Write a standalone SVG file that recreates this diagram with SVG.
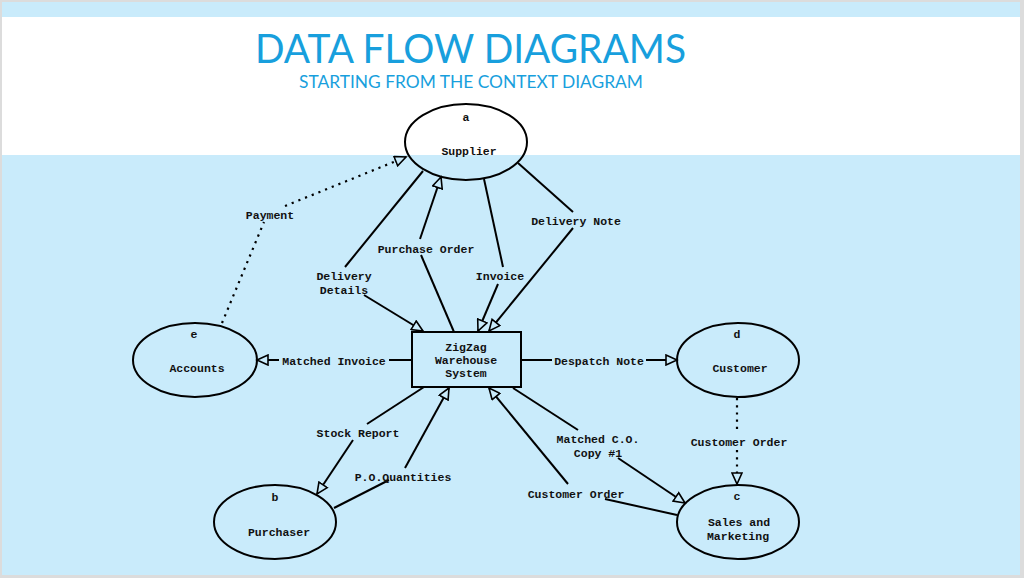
<svg xmlns="http://www.w3.org/2000/svg" width="1024" height="578" viewBox="0 0 1024 578">
<style>
.lbl{font-family:"Liberation Mono","Courier New",monospace;font-size:11.5px;font-weight:bold;fill:#111;text-anchor:middle}
.ln{fill:none;stroke:#000;stroke-width:2}
.dot{fill:none;stroke:#000;stroke-width:2.2;stroke-dasharray:2.2 5}
.nd{fill:none;stroke:#000;stroke-width:2}
.ttl{font-family:Lato,"Open Sans",sans-serif;fill:#189fdd}
</style>
<defs>
<marker id="ah" markerUnits="userSpaceOnUse" markerWidth="14" markerHeight="12" refX="11" refY="5" orient="auto" viewBox="-1 -1 14 12">
<path d="M0,0 L11,5 L0,10 z" fill="#c9ebfb" stroke="#000" stroke-width="1.6"/>
</marker>
</defs>
<rect x="0" y="0" width="1024" height="578" fill="#dcdcdc"/>
<rect x="2" y="2" width="1018" height="573" fill="#c9ebfb"/>
<rect x="2" y="17" width="1018" height="138" fill="#ffffff"/>
<text class="ttl" x="255" y="63" font-size="40" textLength="431" lengthAdjust="spacingAndGlyphs">DATA FLOW DIAGRAMS</text>
<text class="ttl" x="299" y="88" font-size="18" textLength="344" lengthAdjust="spacingAndGlyphs">STARTING FROM THE CONTEXT DIAGRAM</text>
<g id="connectors">
<path class="dot" d="M222,323 L264,222"/>
<path class="dot" d="M285,206 L406,157" marker-end="url(#ah)"/>
<path class="ln" d="M423,171 L345,267"/>
<path class="ln" d="M364,295 L423,331" marker-end="url(#ah)"/>
<path class="ln" d="M454,332 L421,255"/>
<path class="ln" d="M420,239 L441,177" marker-end="url(#ah)"/>
<path class="ln" d="M484,179 L503,267"/>
<path class="ln" d="M498,284 L478,331" marker-end="url(#ah)"/>
<path class="ln" d="M518,163 L573,212"/>
<path class="ln" d="M573,228 L489,331" marker-end="url(#ah)"/>
<path class="ln" d="M412,360 L389,360"/>
<path class="ln" d="M279,360 L257,360" marker-end="url(#ah)"/>
<path class="ln" d="M521,360 L552,360"/>
<path class="ln" d="M646,360 L677,360" marker-end="url(#ah)"/>
<path class="ln" d="M424,387 L367,424"/>
<path class="ln" d="M353,440 L317,494" marker-end="url(#ah)"/>
<path class="ln" d="M334,508 L389,480"/>
<path class="ln" d="M405,468 L449,388" marker-end="url(#ah)"/>
<path class="ln" d="M513,388 L578,430"/>
<path class="ln" d="M618,458 L685,503" marker-end="url(#ah)"/>
<path class="ln" d="M677,515 L605,499"/>
<path class="ln" d="M568,484 L489,388" marker-end="url(#ah)"/>
<path class="dot" d="M737,398 L737,433"/>
<path class="dot" d="M737,450 L737,484" marker-end="url(#ah)"/>
</g>
<g id="labels">
<text class="lbl" x="270" y="219">Payment</text>
<text class="lbl" x="344" y="280">Delivery</text>
<text class="lbl" x="344" y="294">Details</text>
<text class="lbl" x="426" y="253">Purchase Order</text>
<text class="lbl" x="500" y="280">Invoice</text>
<text class="lbl" x="576" y="225">Delivery Note</text>
<text class="lbl" x="334" y="365">Matched Invoice</text>
<text class="lbl" x="599" y="365">Despatch Note</text>
<text class="lbl" x="358" y="437">Stock Report</text>
<text class="lbl" x="403" y="481">P.O.Quantities</text>
<text class="lbl" x="598" y="443">Matched C.O.</text>
<text class="lbl" x="598" y="457">Copy #1</text>
<text class="lbl" x="576" y="498">Customer Order</text>
<text class="lbl" x="739" y="446">Customer Order</text>
</g>
<g id="node-a">
<ellipse class="nd" cx="466" cy="142" rx="61" ry="38"/>
<text class="lbl" x="466" y="121">a</text>
<text class="lbl" x="469" y="155">Supplier</text>
</g>
<g id="node-e">
<ellipse class="nd" cx="195" cy="360" rx="62" ry="37"/>
<text class="lbl" x="194" y="338">e</text>
<text class="lbl" x="197" y="372">Accounts</text>
</g>
<g id="node-d">
<ellipse class="nd" cx="738" cy="360" rx="61" ry="37"/>
<text class="lbl" x="737" y="338">d</text>
<text class="lbl" x="740" y="372">Customer</text>
</g>
<g id="node-b">
<ellipse class="nd" cx="275" cy="522" rx="61" ry="37"/>
<text class="lbl" x="275" y="501">b</text>
<text class="lbl" x="279" y="536">Purchaser</text>
</g>
<g id="node-c">
<ellipse class="nd" cx="738" cy="522" rx="61" ry="37"/>
<text class="lbl" x="737" y="500">c</text>
<text class="lbl" x="739" y="526">Sales and</text>
<text class="lbl" x="738" y="540">Marketing</text>
</g>
<g id="node-system">
<rect class="nd" x="412" y="332" width="109" height="55"/>
<text class="lbl" x="466" y="351">ZigZag</text>
<text class="lbl" x="466" y="364">Warehouse</text>
<text class="lbl" x="466" y="377">System</text>
</g>
</svg>
